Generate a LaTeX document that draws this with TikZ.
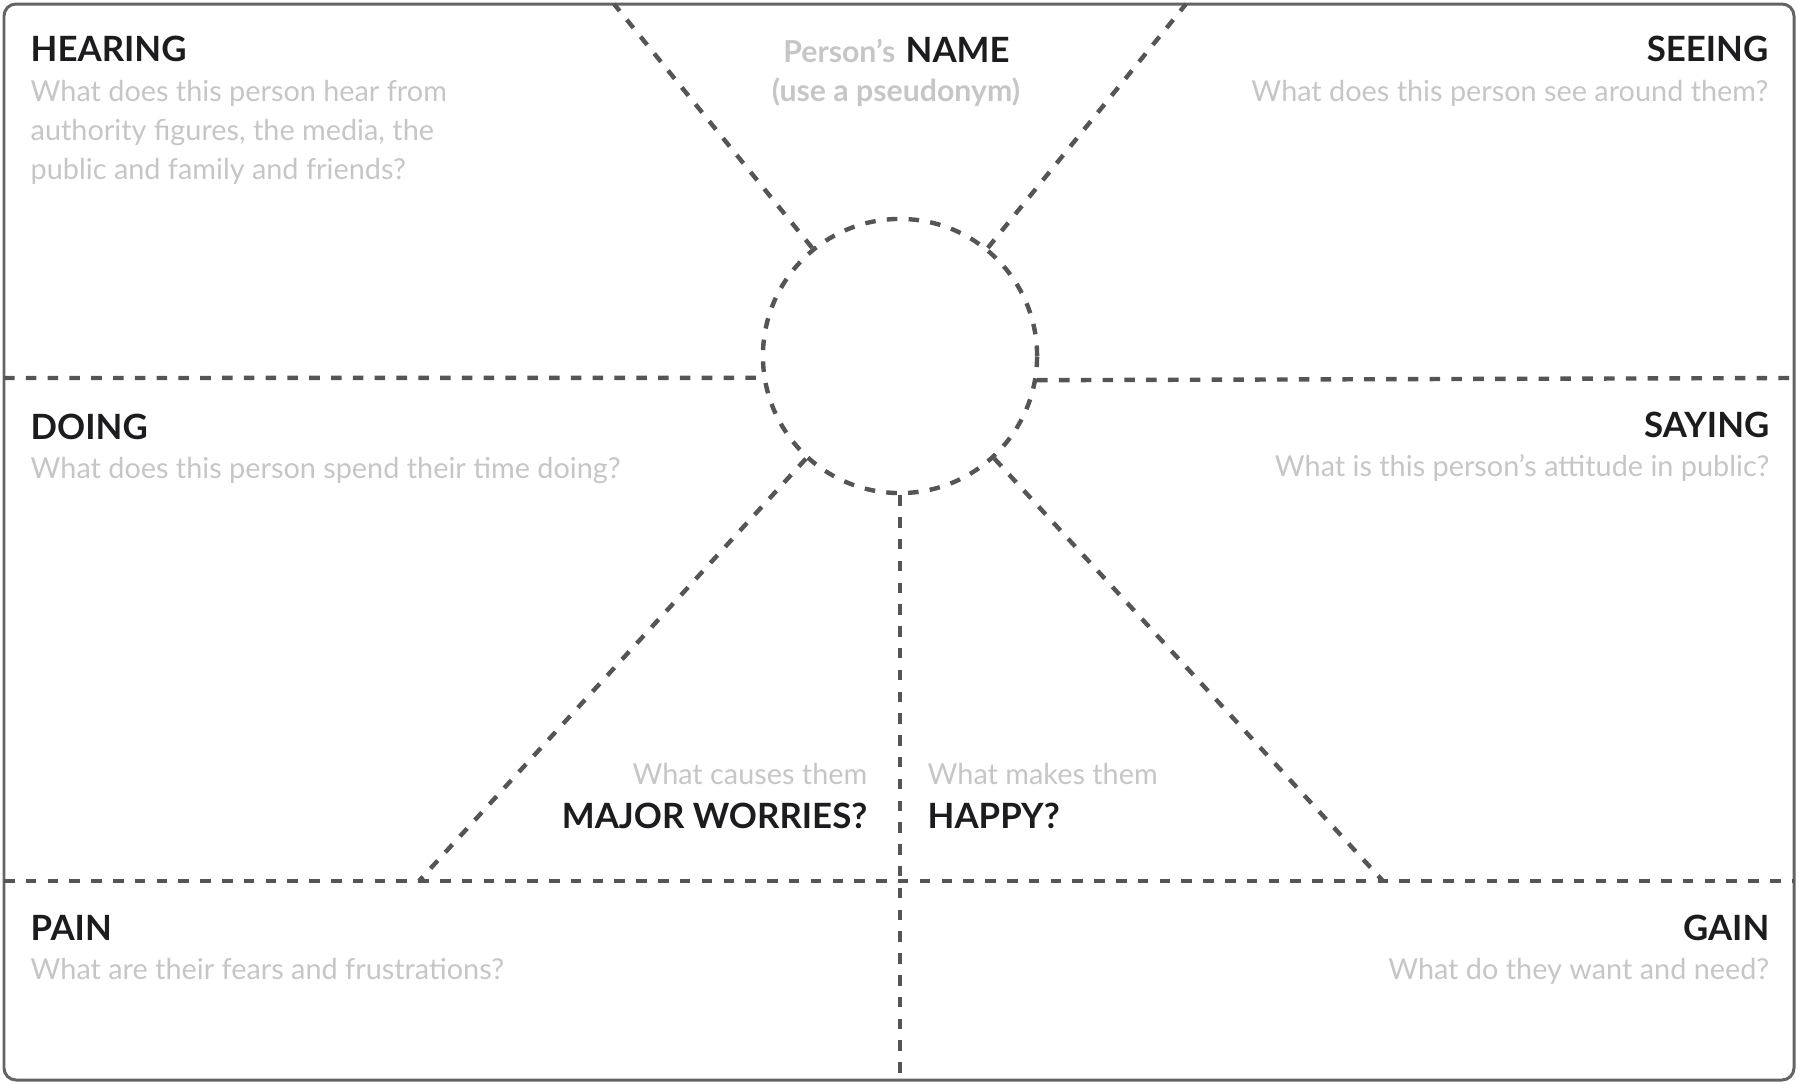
\documentclass[tikz,border=0pt]{standalone}
\usepackage{fontspec}
\setmainfont{Lato}
\begin{document}
\begin{tikzpicture}[x=0.01cm,y=-0.01cm,
  dashline/.style={draw=lineclr,line width=1.25pt,dash pattern=on 3pt off 3.2pt},
  head/.style={inner sep=0,text=headclr,font=\fontsize{9.9}{12}\selectfont\bfseries},
  sub/.style={inner sep=0,text=subclr,font=\fontsize{8.2}{11}\selectfont},
  subb/.style={inner sep=0,text=subclr,font=\fontsize{8.6}{11}\selectfont\bfseries}]
\definecolor{lineclr}{RGB}{85,85,85}
\definecolor{borderclr}{RGB}{100,100,100}
\definecolor{headclr}{RGB}{28,28,30}
\definecolor{subclr}{RGB}{198,198,198}
\useasboundingbox (0,0) rectangle (1799,1084);
\draw[borderclr,line width=0.85pt,rounded corners=0.12cm] (4,4) rectangle (1794,1080);
% centre circle
\node[circle,dashline,minimum size=2.74cm,inner sep=0] (c) at (900,356) {};
% end points
\coordinate (tl) at (614,4);
\coordinate (tr) at (1186,4);
\coordinate (ml) at (4,378);
\coordinate (mr) at (1794,378);
\coordinate (bl) at (4,881);
\coordinate (br) at (1794,881);
\coordinate (dl) at (419,881);
\coordinate (dr) at (1383,881);
\coordinate (vb) at (900,1080);
\draw[dashline] (c) -- (tl);
\draw[dashline] (c) -- (tr);
\draw[dashline] (ml) -- (c.189.2);
\draw[dashline] (c.350.8) -- (mr);
\draw[dashline] (bl) -- (br);
\draw[dashline] (c) -- (dl);
\draw[dashline] (c) -- (dr);
\draw[dashline] (c.south) -- (vb);
% texts
\node[head,anchor=base west] (hearing) at (30,61) {HEARING};
\node[sub,anchor=base west] (hear1) at (30,101) {What does this person hear from};
\node[sub,anchor=base west] (hear2) at (30,140) {authority figures, the media, the};
\node[sub,anchor=base west] (hear3) at (30,179) {public and family and friends?};
\node[head,anchor=base west] (name) at (905,62) {NAME};
\node[subb,anchor=base east] (person) at (896,62) {Person’s};
\node[subb,anchor=base] (pseudo) at (896,101) {(use a pseudonym)};
\node[head,anchor=base east] (seeing) at (1769,61) {SEEING};
\node[sub,anchor=base east] (see1) at (1769,101) {What does this person see around them?};
\node[head,anchor=base west] (doing) at (30,439) {DOING};
\node[sub,anchor=base west] (do1) at (30,478) {What does this person spend their time doing?};
\node[head,anchor=base east] (saying) at (1770,437) {SAYING};
\node[sub,anchor=base east] (say1) at (1770,476) {What is this person’s attitude in public?};
\node[sub,anchor=base east] (worry1) at (868,784) {What causes them};
\node[head,anchor=base east] (worry) at (868,828) {MAJOR WORRIES?};
\node[sub,anchor=base west] (happy1) at (927,784) {What makes them};
\node[head,anchor=base west] (happy) at (927,828) {HAPPY?};
\node[head,anchor=base west] (pain) at (30,940) {PAIN};
\node[sub,anchor=base west] (pain1) at (30,979) {What are their fears and frustrations?};
\node[head,anchor=base east] (gain) at (1770,940) {GAIN};
\node[sub,anchor=base east] (gain1) at (1770,979) {What do they want and need?};
\end{tikzpicture}
\end{document}
